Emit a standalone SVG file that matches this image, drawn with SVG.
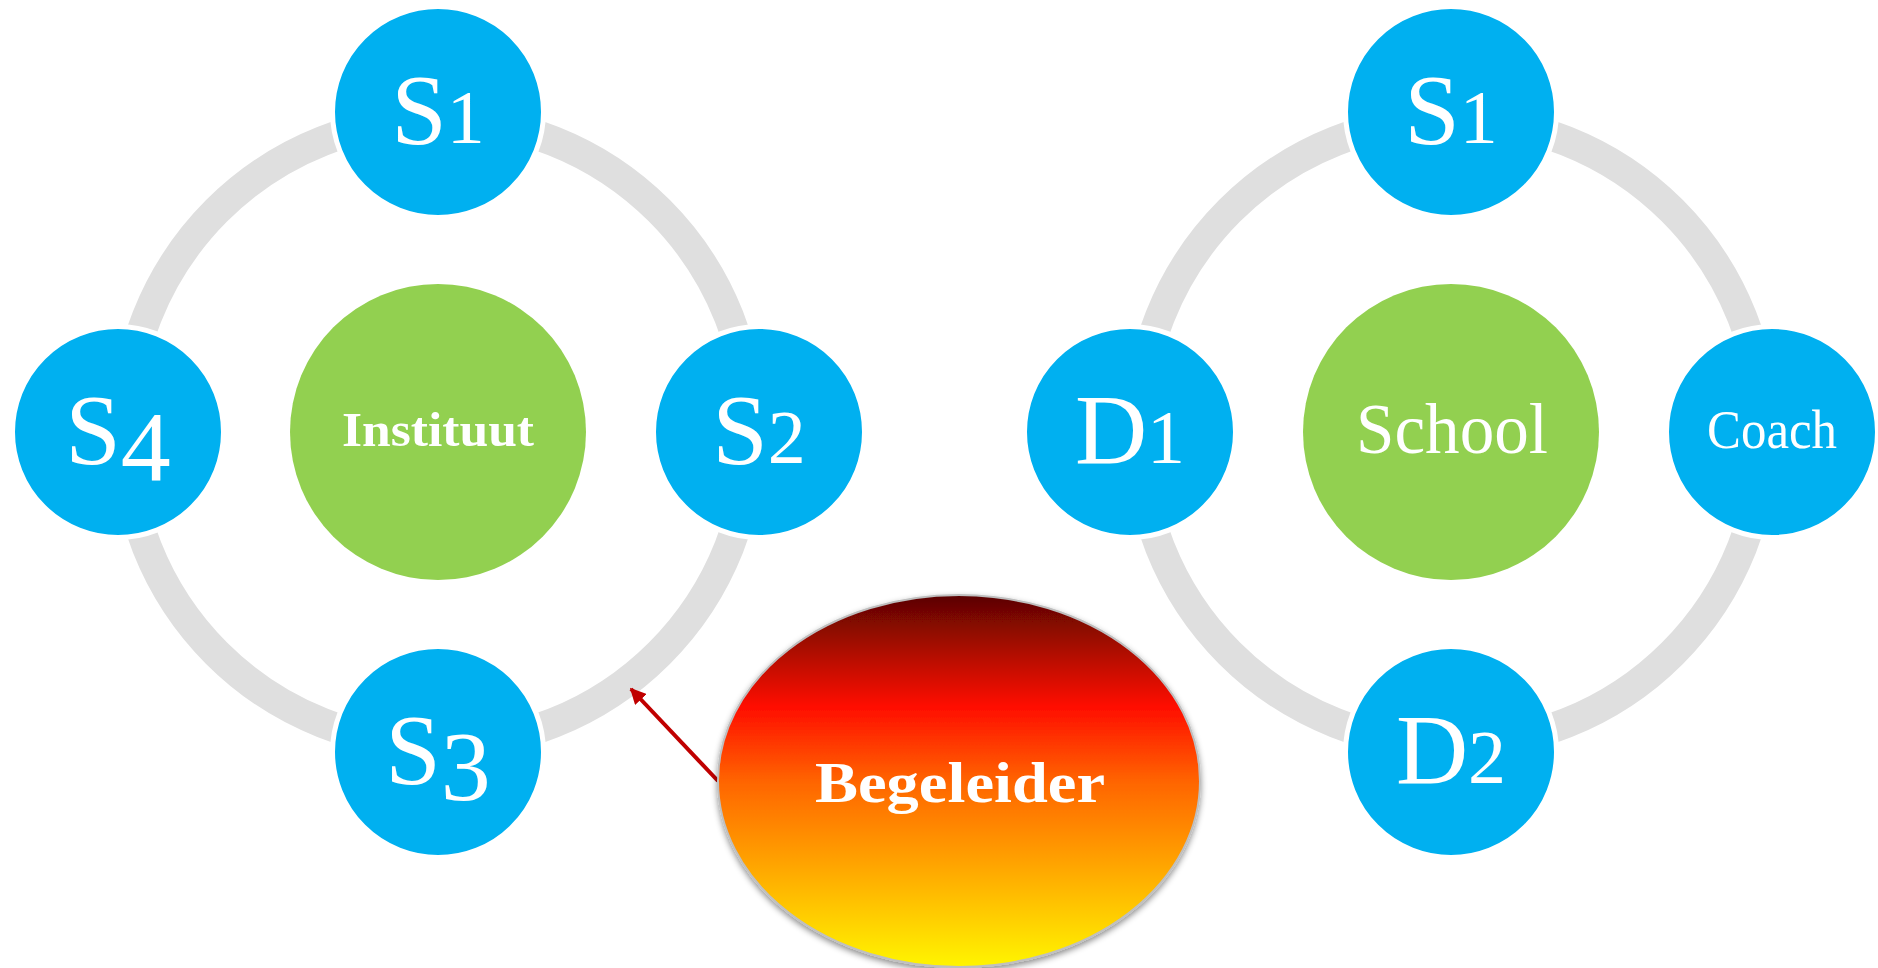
<svg xmlns="http://www.w3.org/2000/svg" width="1878" height="968" viewBox="0 0 1878 968">
<defs>
<style>
.ring{fill:none;stroke:#dfdfdf;stroke-width:30}
.blue{fill:#00b0f0;stroke:#ffffff;stroke-width:5}
.green{fill:#92d050}
.t{font-family:"Liberation Serif","Times New Roman",serif;fill:#ffffff;text-anchor:middle}
.big{font-size:100px}
.dig{font-size:76px}
.dd{font-size:100px}
</style>
<linearGradient id="fire" x1="0" y1="0" x2="0" y2="1">
<stop offset="0" stop-color="#5a0505"/>
<stop offset="0.3" stop-color="#ff0d00"/>
<stop offset="0.5" stop-color="#ff6400"/>
<stop offset="0.72" stop-color="#ffa300"/>
<stop offset="1" stop-color="#fff500"/>
</linearGradient>
<filter id="sh" x="-10%" y="-10%" width="120%" height="125%">
<feGaussianBlur in="SourceAlpha" stdDeviation="3"/>
<feOffset dy="3" result="b"/>
<feFlood flood-color="#000" flood-opacity="0.45"/>
<feComposite in2="b" operator="in"/>
<feMerge><feMergeNode/><feMergeNode in="SourceGraphic"/></feMerge>
</filter>
<marker id="ah" viewBox="0 0 10 10" refX="9" refY="5" markerWidth="4" markerHeight="4" orient="auto">
<path d="M0,0 L10,5 L0,10 z" fill="#c00000"/>
</marker>
</defs>
<rect width="1878" height="968" fill="#ffffff"/>
<g id="connectors">
<circle class="ring" cx="438" cy="432" r="313"/>
<circle class="ring" cx="1451" cy="432" r="313"/>
<line x1="718" y1="781" x2="631" y2="689" stroke="#c00000" stroke-width="4" marker-end="url(#ah)"/>
</g>
<g id="instituut"><circle class="green" cx="438" cy="432" r="148"/><text class="t" x="438" y="446" font-size="48" font-weight="bold" textLength="192" lengthAdjust="spacingAndGlyphs">Instituut</text></g>
<g id="s1-left"><circle class="blue" cx="438" cy="112" r="105.5"/><text class="t big" x="438" y="143">S<tspan class="dig">1</tspan></text></g>
<g id="s2-left"><circle class="blue" cx="759" cy="432" r="105.5"/><text class="t big" x="759" y="463">S<tspan class="dig">2</tspan></text></g>
<g id="s3-left"><circle class="blue" cx="438" cy="752" r="105.5"/><text class="t big" x="438" y="783">S<tspan class="dd" dy="17">3</tspan></text></g>
<g id="s4-left"><circle class="blue" cx="118" cy="432" r="105.5"/><text class="t big" x="118" y="463">S<tspan class="dd" dy="17">4</tspan></text></g>
<g id="school"><circle class="green" cx="1451" cy="432" r="148"/><text class="t" x="1452" y="453" font-size="72" textLength="192" lengthAdjust="spacingAndGlyphs">School</text></g>
<g id="s1-right"><circle class="blue" cx="1451" cy="112" r="105.5"/><text class="t big" x="1451" y="143">S<tspan class="dig">1</tspan></text></g>
<g id="coach"><circle class="blue" cx="1772" cy="432" r="105.5"/><text class="t" x="1772" y="448" font-size="54" textLength="130" lengthAdjust="spacingAndGlyphs">Coach</text></g>
<g id="d2"><circle class="blue" cx="1451" cy="752" r="105.5"/><text class="t big" x="1451" y="783">D<tspan class="dig">2</tspan></text></g>
<g id="d1"><circle class="blue" cx="1130" cy="432" r="105.5"/><text class="t big" x="1130" y="463">D<tspan class="dig">1</tspan></text></g>
<g id="begeleider"><ellipse cx="959" cy="781" rx="241" ry="186" fill="url(#fire)" stroke="#bfbfbf" stroke-width="2" filter="url(#sh)"/><text class="t" x="960" y="802" font-size="58" font-weight="bold" textLength="290" lengthAdjust="spacingAndGlyphs">Begeleider</text></g>
</svg>
